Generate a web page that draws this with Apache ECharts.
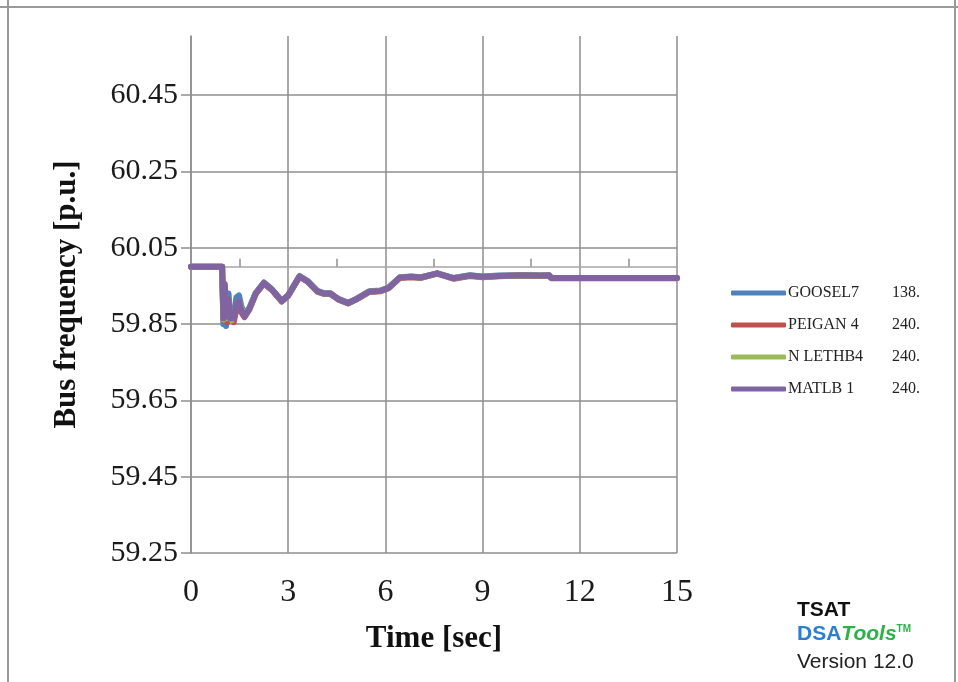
<!DOCTYPE html>
<html>
<head>
<meta charset="utf-8">
<script src="https://cdn.jsdelivr.net/npm/echarts@6/dist/echarts.min.js"></script>
<style>html,body{margin:0;padding:0;background:#fff}#c{width:958px;height:682px}</style>
</head>
<body>
<div id="c"></div>
<script>
const time = [0, 0.96, 1.0, 1.04, 1.08, 1.12, 1.16, 1.2, 1.26, 1.32, 1.4, 1.48, 1.56, 1.65, 1.8, 2.0, 2.25, 2.5, 2.8, 3.0, 3.35, 3.6, 3.9, 4.1, 4.3, 4.55, 4.85, 5.1, 5.5, 5.85, 6.1, 6.45, 6.8, 7.1, 7.6, 8.1, 8.6, 9.0, 9.5, 10.2, 10.8, 11.05, 11.12, 15];

const seriesNames = ['GOOSEL7    138.', 'PEIGAN 4    240.', 'N LETHB4    240.', 'MATLB 1    240.'];

const goosel7 = [60.0, 60.0, 59.85, 59.94, 59.845, 59.85, 59.93, 59.86, 59.855, 59.87, 59.92, 59.925, 59.895, 59.875, 59.892, 59.932, 59.959, 59.941, 59.911, 59.926, 59.976, 59.963, 59.937, 59.931, 59.931, 59.916, 59.906, 59.916, 59.936, 59.938, 59.946, 59.973, 59.975, 59.973, 59.983, 59.971, 59.978, 59.975, 59.977, 59.978, 59.977, 59.978, 59.971, 59.971];
const peigan4 = [60.0, 60.0, 59.86, 59.95, 59.87, 59.855, 59.9, 59.88, 59.87, 59.855, 59.89, 59.905, 59.88, 59.868, 59.888, 59.929, 59.956, 59.939, 59.909, 59.924, 59.974, 59.961, 59.935, 59.929, 59.929, 59.914, 59.904, 59.914, 59.934, 59.936, 59.944, 59.971, 59.973, 59.971, 59.982, 59.969, 59.976, 59.973, 59.975, 59.977, 59.976, 59.977, 59.97, 59.97];
const nlethb4 = [60.0, 60.0, 59.862, 59.95, 59.89, 59.865, 59.91, 59.87, 59.86, 59.86, 59.895, 59.91, 59.89, 59.872, 59.89, 59.93, 59.957, 59.94, 59.91, 59.925, 59.975, 59.962, 59.936, 59.93, 59.93, 59.915, 59.905, 59.915, 59.935, 59.937, 59.945, 59.972, 59.974, 59.972, 59.983, 59.97, 59.977, 59.974, 59.976, 59.978, 59.977, 59.978, 59.971, 59.971];
const matlb1 = [60.0, 60.0, 59.865, 59.955, 59.9, 59.87, 59.915, 59.865, 59.86, 59.865, 59.9, 59.91, 59.885, 59.87, 59.89, 59.93, 59.958, 59.94, 59.91, 59.925, 59.975, 59.962, 59.936, 59.93, 59.93, 59.915, 59.905, 59.915, 59.935, 59.937, 59.945, 59.972, 59.974, 59.972, 59.983, 59.97, 59.977, 59.974, 59.976, 59.978, 59.977, 59.978, 59.971, 59.971];

const yTicks = [59.25, 59.45, 59.65, 59.85, 60.05, 60.25, 60.45];
const yTickLabels = ['59.25', '59.45', '59.65', '59.85', '60.05', '60.25', '60.45'];
const xTicks = [0, 3, 6, 9, 12, 15];
const axisCrossValue = 60.0;

const colors = ['#4f81bd', '#c0504d', '#9bbb59', '#8064a2'];
const values = [goosel7, peigan4, nlethb4, matlb1];

const chart = echarts.init(document.getElementById('c'), null, {renderer: 'canvas'});
const gridTop = 36, gridBottom = 129;
const yMin = 59.25, yMax = 60.605;
const plotH = 682 - gridTop - gridBottom;
const crossOffset = -((yMax - axisCrossValue) / (yMax - yMin)) * plotH;

const serif = '"Liberation Serif", "Times New Roman", serif';
const gridColor = '#8e8e8e';

const option = {
  animation: false,
  backgroundColor: '#ffffff',
  color: colors,
  grid: {left: 191, right: 281, top: gridTop, bottom: gridBottom, outerBoundsMode: 'none', containLabel: false},
  legend: {
    orient: 'vertical',
    left: 726,
    top: 280,
    icon: 'roundRect',
    itemWidth: 55,
    itemHeight: 5,
    itemGap: 16,
    data: seriesNames,
    formatter: function (name) {
      const parts = name.split(/\s{2,}/);
      return '{a|' + parts[0] + '}{b|' + parts[1] + '}';
    },
    textStyle: {
      fontFamily: serif,
      fontSize: 16,
      color: '#222',
      rich: {
        a: {fontFamily: serif, fontSize: 16, width: 104, color: '#222', padding: [0, 0, 0, -3]},
        b: {fontFamily: serif, fontSize: 16, color: '#222'}
      }
    }
  },
  xAxis: [{
    type: 'value',
    min: xTicks[0],
    max: xTicks[xTicks.length - 1],
    interval: 3,
    position: 'bottom',
    axisLine: {show: false},
    axisTick: {show: false},
    axisLabel: {fontFamily: serif, fontSize: 32, color: '#1a1a1a', margin: 24},
    splitLine: {show: true, lineStyle: {color: gridColor, width: 1.5}},
    name: 'Time [sec]',
    nameLocation: 'middle',
    nameGap: 70,
    nameTextStyle: {fontFamily: serif, fontSize: 31, fontWeight: 'bold', color: '#111'}
  }, {
    type: 'value',
    min: xTicks[0],
    max: xTicks[xTicks.length - 1],
    interval: 3,
    position: 'top',
    offset: crossOffset,
    axisLine: {show: true, lineStyle: {color: '#a6a6a6', width: 1.5}},
    axisTick: {show: false},
    minorTick: {show: true, splitNumber: 2, length: 8, lineStyle: {color: '#8e8e8e', width: 1.5}},
    axisLabel: {show: false},
    splitLine: {show: false}
  }],
  yAxis: {
    type: 'value',
    min: yMin,
    max: yMax,
    axisLine: {show: true, lineStyle: {color: gridColor, width: 1.5}},
    axisTick: {show: true, length: 10, customValues: yTicks, lineStyle: {color: gridColor, width: 1.5}},
    axisLabel: {
      customValues: yTicks,
      fontFamily: serif, fontSize: 30, color: '#1a1a1a', margin: 13,
      formatter: function (v) {
        const i = yTicks.findIndex(t => Math.abs(t - v) < 1e-6);
        return i >= 0 ? yTickLabels[i] : '';
      }
    },
    splitLine: {show: true, lineStyle: {color: gridColor, width: 1.5}},
    name: 'Bus frequency [p.u.]',
    nameLocation: 'middle',
    nameGap: 109,
    nameRotate: 90,
    nameTextStyle: {fontFamily: serif, fontSize: 31, fontWeight: 'bold', color: '#111'}
  },
  series: seriesNames.map((n, i) => ({
    name: n,
    type: 'line',
    xAxisIndex: 0,
    symbol: 'none',
    lineStyle: {width: 6, color: colors[i], join: 'round', cap: 'round'},
    data: time.map((t, k) => [t, values[i][k]]),
    z: 2 + i
  })),
  graphic: [
    {type: 'line', shape: {x1: 0, y1: 7, x2: 958, y2: 7}, style: {stroke: '#9a9a9a', lineWidth: 2}, z: 10},
    {type: 'line', shape: {x1: 8, y1: 0, x2: 8, y2: 682}, style: {stroke: '#9a9a9a', lineWidth: 2}, z: 10},
    {type: 'line', shape: {x1: 955, y1: 0, x2: 955, y2: 682}, style: {stroke: '#9a9a9a', lineWidth: 2}, z: 10},
    {type: 'text', left: 797, top: 600, style: {text: 'TSAT', font: 'bold 21px "Liberation Sans", Arial, sans-serif', fill: '#111'}},
    {type: 'text', left: 797, top: 624, style: {
      text: '{d|DSA}{t|Tools}{m|TM}',
      rich: {
        d: {font: 'bold 21px "Liberation Sans", Arial, sans-serif', fill: '#2a7fd0'},
        t: {font: 'italic bold 21px "Liberation Sans", Arial, sans-serif', fill: '#2db24a'},
        m: {font: 'bold 10px "Liberation Sans", Arial, sans-serif', fill: '#2db24a', verticalAlign: 'top', padding: [0, 0, 9, 0]}
      }
    }},
    {type: 'text', left: 797, top: 652, style: {text: 'Version 12.0', font: '21px "Liberation Sans", Arial, sans-serif', fill: '#222'}}
  ]
};
chart.setOption(option);
</script>
</body>
</html>
